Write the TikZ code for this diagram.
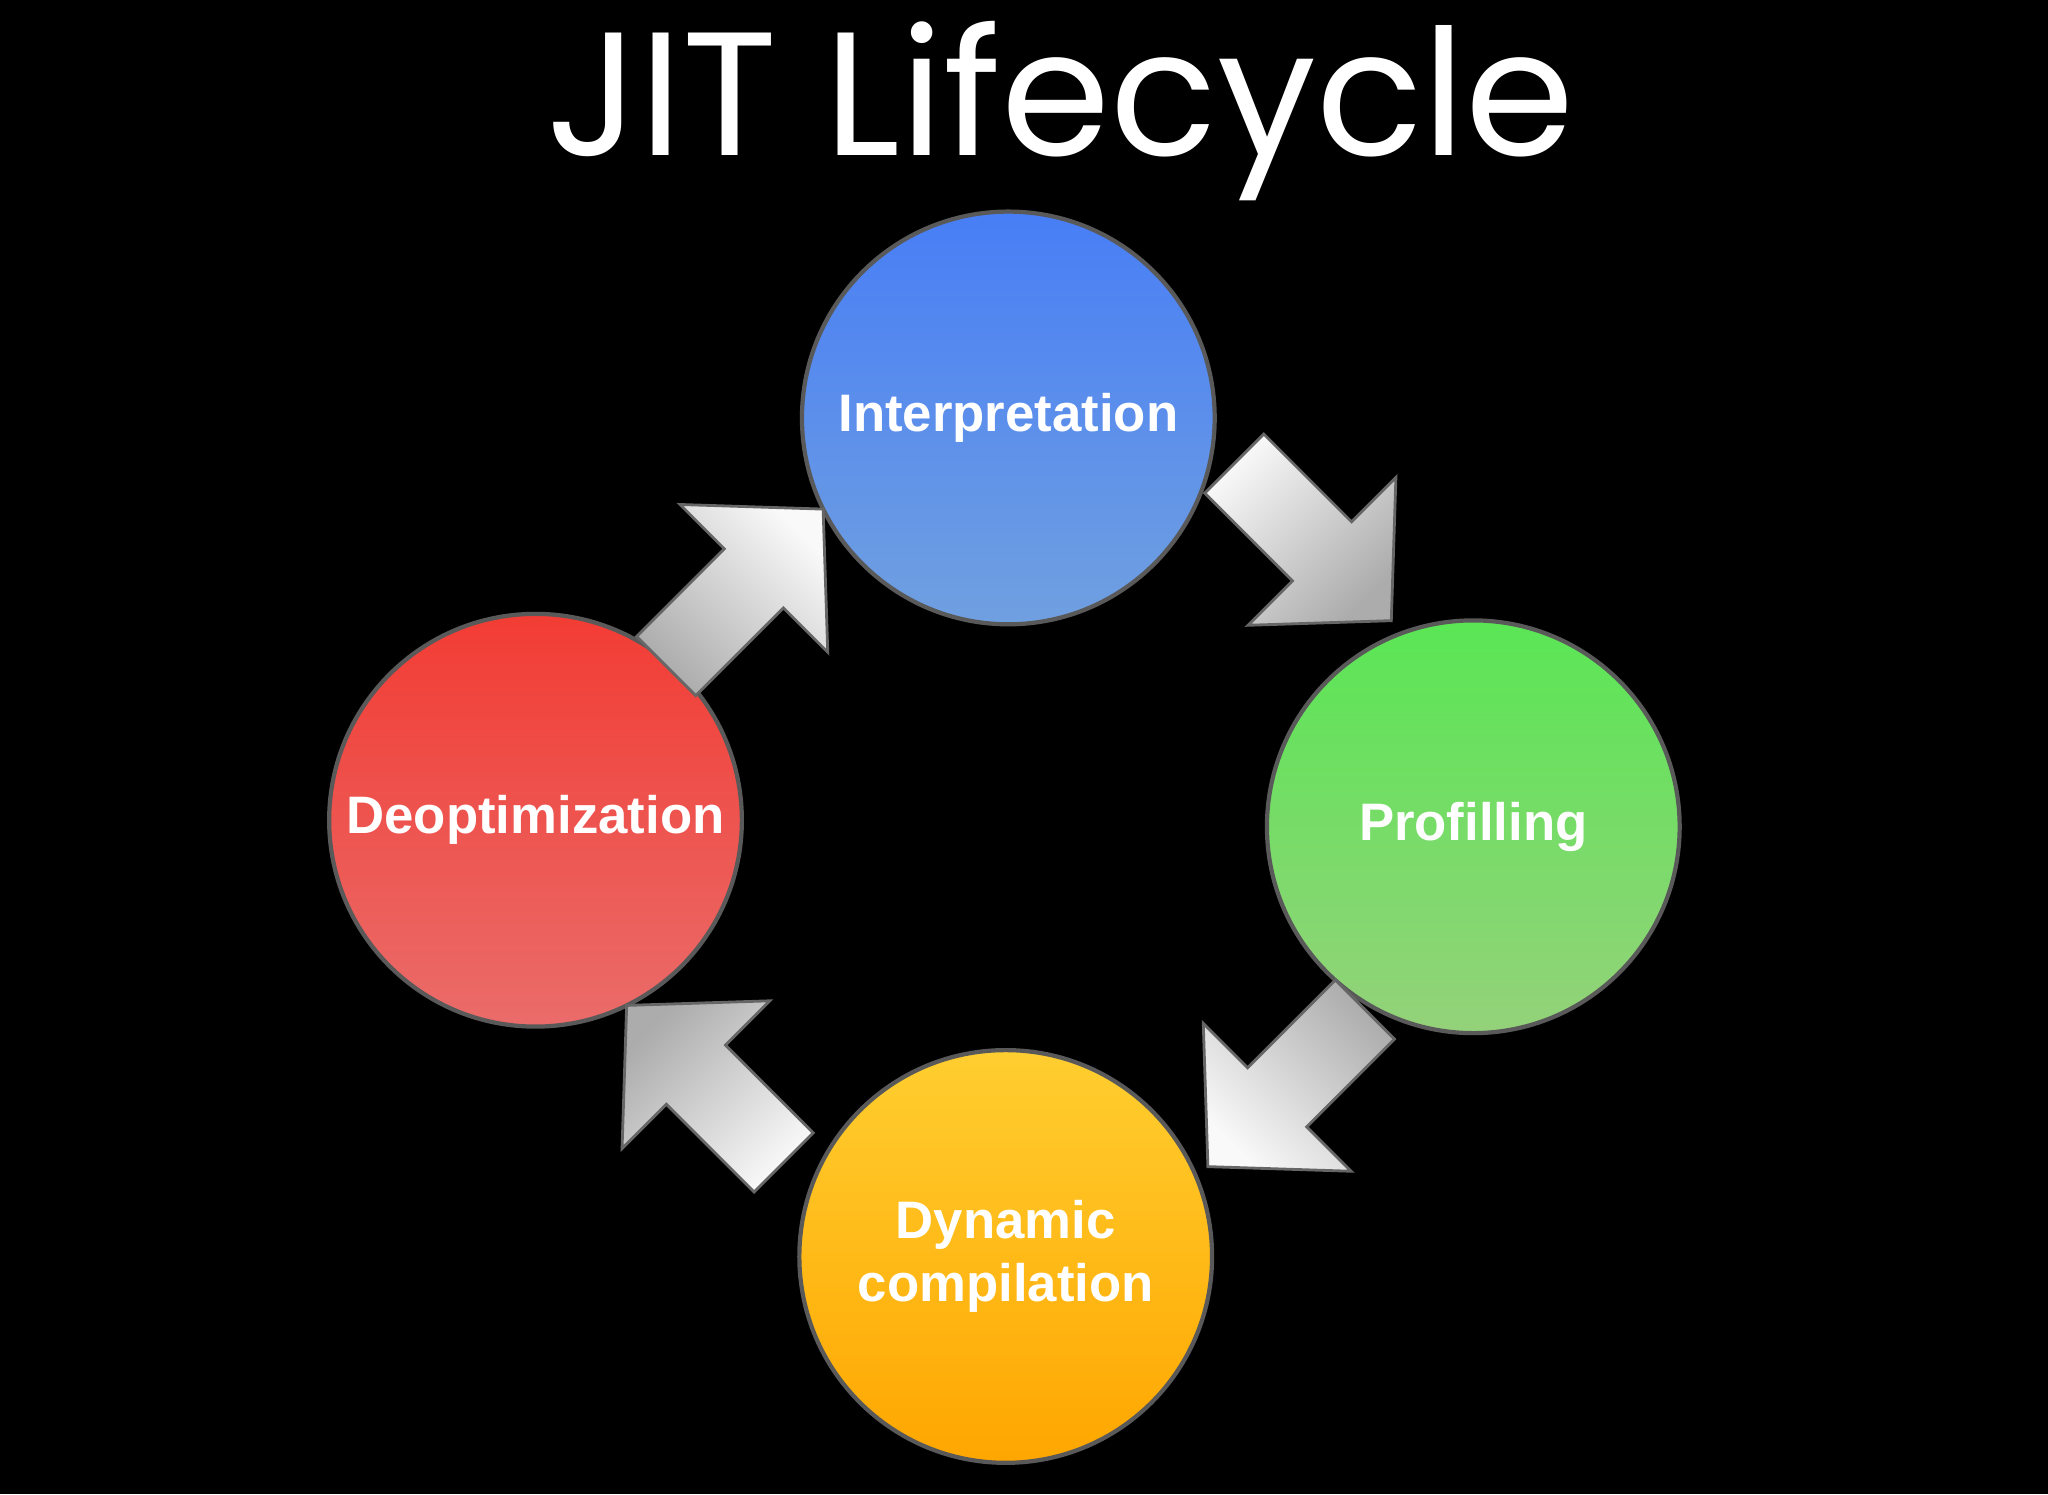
\documentclass[tikz,border=0pt]{standalone}
\usepackage{fontspec}
\setmainfont{Liberation Sans}
\newfontfamily\titlefont{Poppins}
\begin{document}
\begin{tikzpicture}
[x=0.013061cm, y=-0.013061cm,
stage/.style={circle, minimum size=316*0.013061cm, draw=gray!70!black, line width=1.2pt,
  text=white, font=\bfseries\fontsize{15}{18}\selectfont, align=center, inner sep=0pt},
blockarrow/.style={draw=gray!80!black, line width=0.8pt, top color=gray!5, bottom color=gray!65}]
\fill[black] (0,0) rectangle (1568,1144);
\node[text=white, font=\titlefont\fontsize{50}{60}\selectfont] (title) at (812,85) {JIT Lifecycle};
\node[stage, top color={rgb,255:red,72;green,126;blue,246}, bottom color={rgb,255:red,112;green,160;blue,224}] (interp) at (772,320) {Interpretation};
\node[stage, top color={rgb,255:red,90;green,230;blue,85}, bottom color={rgb,255:red,148;green,210;blue,122}] (prof) at (1128,633) {Profilling};
\node[stage, top color={rgb,255:red,255;green,206;blue,48}, bottom color={rgb,255:red,255;green,166;blue,0}] (dyncomp) at (770,962) {Dynamic\\compilation};
\node[stage, top color={rgb,255:red,242;green,60;blue,52}, bottom color={rgb,255:red,234;green,108;blue,106}] (deopt) at (410,628) {Deoptimization};
% block arrows between the stages
\foreach \tx/\ty/\ang in {945/355/-45, 1045/773/-135, 600/890/135, 510/510/45}
  \draw[blockarrow, shift={(\tx,\ty)}, rotate=\ang, shading angle=-\ang]
    (0,-32) -- (95,-32) -- (95,-80) -- (170,0) -- (95,80) -- (95,32) -- (0,32) -- cycle;
\end{tikzpicture}
\end{document}
